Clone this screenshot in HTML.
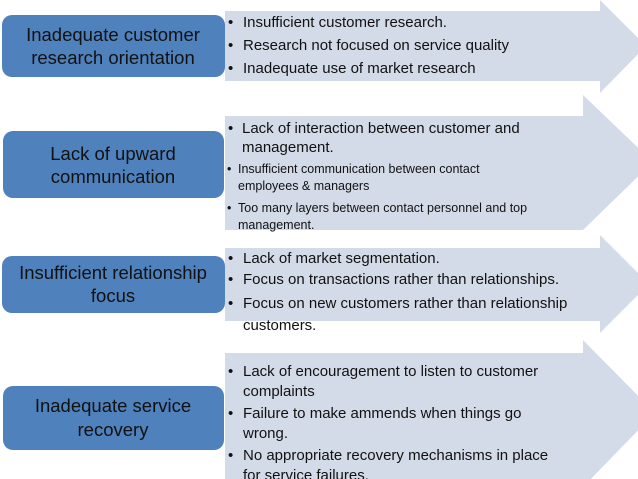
<!DOCTYPE html>
<html><head><meta charset="utf-8"><style>
html,body{margin:0;padding:0;background:#fff;}
svg{display:block;}
text{font-family:"Liberation Sans",sans-serif;fill:#111;}
.b{font-size:18.5px;fill:#111;}
.t{font-size:15px;}
.s{font-size:12.5px;}
</style></head><body>
<svg width="638" height="479" viewBox="0 0 638 479" xmlns="http://www.w3.org/2000/svg">
<g fill="#d3dbe9">
<polygon points="225,11 600,11 600,0 646,46 600,93 600,81 225,81"/>
<polygon points="225,116 583,116 583,95 653,162 583,230 583,230 225,230"/>
<polygon points="225,248 600,248 600,235 649,284 600,333 600,321 225,321"/>
<polygon points="225,353 583,353 583,340 655,413 583,487 583,479 225,479"/>
</g>
<g fill="#4f81bd">
<rect x="2" y="15" width="223" height="62" rx="10"/>
<rect x="3" y="131" width="221" height="67" rx="10"/>
<rect x="2" y="256" width="223" height="57" rx="10"/>
<rect x="3" y="386" width="221" height="64" rx="10"/>
</g>
<g class="b" text-anchor="middle">
<text x="113" y="41">Inadequate customer</text>
<text x="113" y="64">research orientation</text>
<text x="113" y="160">Lack of upward</text>
<text x="113" y="183">communication</text>
<text x="113" y="279">Insufficient relationship</text>
<text x="113" y="302">focus</text>
<text x="113" y="412">Inadequate service</text>
<text x="113" y="436">recovery</text>
</g>
<g class="t">
<text x="228" y="27">•</text><text x="243" y="27">Insufficient customer research.</text>
<text x="228" y="50">•</text><text x="243" y="50">Research not focused on service quality</text>
<text x="228" y="73">•</text><text x="243" y="73">Inadequate use of market research</text>
<text x="228" y="133">•</text><text x="242" y="133">Lack of interaction between customer and</text>
<text x="242" y="152">management.</text>
<text x="228" y="263">•</text><text x="243" y="263">Lack of market segmentation.</text>
<text x="228" y="284">•</text><text x="243" y="284">Focus on transactions rather than relationships.</text>
<text x="228" y="308">•</text><text x="243" y="308">Focus on new customers rather than relationship</text>
<text x="243" y="330">customers.</text>
<text x="228" y="376">•</text><text x="243" y="376">Lack of encouragement to listen to customer</text>
<text x="243" y="396">complaints</text>
<text x="228" y="418">•</text><text x="243" y="418">Failure to make ammends when things go</text>
<text x="243" y="438">wrong.</text>
<text x="228" y="460">•</text><text x="243" y="460">No appropriate recovery mechanisms in place</text>
<text x="243" y="480">for service failures.</text>
</g>
<g class="s">
<text x="227" y="173">•</text><text x="238" y="173">Insufficient communication between contact</text>
<text x="238" y="190">employees &amp; managers</text>
<text x="227" y="212">•</text><text x="238" y="212">Too many layers between contact personnel and top</text>
<text x="238" y="229">management.</text>
</g>
</svg>
</body></html>
